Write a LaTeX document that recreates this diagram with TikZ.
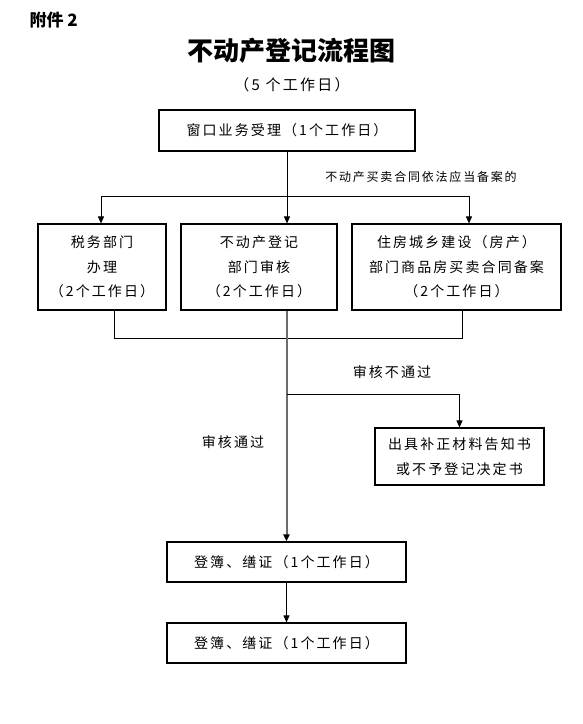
\documentclass[tikz,border=0pt]{standalone}
\usepackage{fontspec}
\setmainfont{Noto Sans CJK SC}[LetterSpace=15]
\newfontfamily\headfont{Noto Sans CJK SC}
\usetikzlibrary{arrows.meta,positioning}
\tikzset{
  blk/.style={draw,rectangle,line width=1.1pt,align=center,inner sep=0pt,font=\fontsize{14}{24.5}\selectfont},
  lbl/.style={font=\fontsize{14}{24}\selectfont,align=center},
  note/.style={font=\fontsize{12}{14}\selectfont,align=center},
  ln/.style={line width=0.9pt},
  arr/.style={ln,-{Triangle[length=7pt,width=6pt]}},
  garr/.style={-{Triangle[length=7pt,width=6pt,black]},draw=gray!85!black,line width=2pt}
}
\begin{document}
\begin{tikzpicture}[x=1pt,y=-1pt]
  \useasboundingbox (0,0) rectangle (583,724);
  % heading
  \node[font=\headfont\fontsize{17}{20}\selectfont\bfseries,anchor=west] (annex) at (26,20) {附件 2};
  \node[font=\headfont\fontsize{26}{30}\selectfont\bfseries] (title) at (291,51) {不动产登记流程图};
  \node[font=\fontsize{15}{18}\selectfont] (days) at (292,85) {（5 个工作日）};

  % boxes
  \node[blk,minimum width=256pt,minimum height=41pt] (win) at (287,130.5) {窗口业务受理（1个工作日）};
  \node[blk,minimum width=128pt,minimum height=86pt] (tax) at (102,267) {税务部门\\办理\\（2个工作日）};
  \node[blk,minimum width=156pt,minimum height=86pt] (reg) at (259,267) {不动产登记\\部门审核\\（2个工作日）};
  \node[blk,minimum width=209pt,minimum height=86pt] (house) at (456.5,267) {住房城乡建设（房产）\\部门商品房买卖合同备案\\（2个工作日）};
  \node[blk,minimum width=169pt,minimum height=57pt] (rej) at (459.5,456.5) {出具补正材料告知书\\或不予登记决定书};
  \node[blk,minimum width=239pt,minimum height=40pt] (book) at (286.5,562) {登簿、缮证（1个工作日）};
  \node[blk,minimum width=239pt,minimum height=40pt] (cert) at (286.5,643) {登簿、缮证（1个工作日）};

  % labels
  \node[note] (filing) at (421,177) {不动产买卖合同依法应当备案的};
  \node[lbl] (fail) at (392,372) {审核不通过};
  \node[lbl] (pass) at (233,442) {审核通过};

  % split
  \coordinate (bl) at (101,196);
  \coordinate (br) at (469,196);
  \draw[ln] (bl) -- (br);
  \draw[arr] (win.south) -- (win.south |- reg.north);
  \draw[arr] (bl) -- (bl |- tax.north);
  \draw[arr] (br) -- (br |- house.north);

  % merge
  \coordinate (ml) at (114,338);
  \coordinate (mr) at (462,338);
  \draw[ln] (ml |- tax.south) -- (ml) -- (mr) -- (mr |- house.south);

  % review
  \coordinate (fork) at (286.5,394);
  \draw[garr] (book.north |- reg.south) -- (book.north);
  \draw[arr] (fork) -| (rej.north);
  \draw[arr] (book) -- (cert);
\end{tikzpicture}
\end{document}
